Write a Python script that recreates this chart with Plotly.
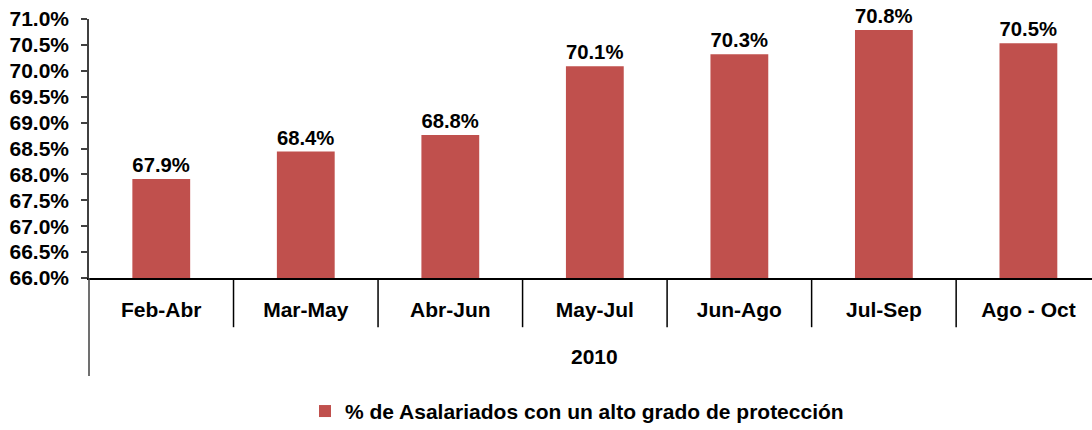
import plotly.graph_objects as go

categories = ["Feb-Abr", "Mar-May", "Abr-Jun", "May-Jul", "Jun-Ago", "Jul-Sep", "Ago - Oct"]
values = [67.91, 68.44, 68.76, 70.09, 70.32, 70.79, 70.53]
labels = ["67.9%", "68.4%", "68.8%", "70.1%", "70.3%", "70.8%", "70.5%"]
year_label = "2010"
series_name = "% de Asalariados con un alto grado de protección"

FONT = "Liberation Sans, Arial, sans-serif"
FS = 21
BAR = "#C0504D"
AX = "#404040"

fig = go.Figure()
fig.add_trace(go.Bar(
    x=categories, y=values, name=series_name,
    marker=dict(color=BAR, line=dict(width=0)),
    text=labels, textposition="outside", cliponaxis=False,
    textfont=dict(family=FONT, size=FS, color="black", weight="bold"),
    showlegend=True,
))

n = len(categories)
shapes = []
# separators between categories below the axis
for i in range(n - 1):
    shapes.append(dict(type="line", xref="x", yref="paper", x0=i + 0.5, x1=i + 0.5,
                       y0=0, y1=-0.19, line=dict(color="black", width=1.5)))
# extension of y axis line downward
shapes.append(dict(type="line", xref="paper", yref="paper", x0=0, x1=0,
                   y0=0, y1=-0.378, line=dict(color=AX, width=1.5)))

fig.update_layout(
    width=1092, height=430,
    margin=dict(l=89, r=0, t=19, b=152, autoexpand=False),
    paper_bgcolor="white", plot_bgcolor="white",
    font=dict(family=FONT, size=FS, color="black"),
    bargap=0.6,
    shapes=shapes,
    xaxis=dict(
        type="category", range=[-0.5, n - 0.56], automargin=False,
        showline=True, linecolor="black", linewidth=1.5,
        ticks="outside", ticklen=12, tickcolor="rgba(0,0,0,0)",
        tickfont=dict(family=FONT, size=FS, color="black", weight="bold"),
        showgrid=False, zeroline=False,
    ),
    yaxis=dict(
        range=[66, 71], dtick=0.5, tick0=66, tickformat=".1f", ticksuffix="%",
        automargin=False,
        showline=True, linecolor=AX, linewidth=1.5,
        ticks="outside", ticklen=6, tickcolor=AX, tickwidth=1.5,
        ticklabelstandoff=8,
        tickfont=dict(family=FONT, size=FS, color="black", weight="bold"),
        showgrid=False, zeroline=False,
    ),
    legend=dict(
        orientation="h", xanchor="left", yanchor="middle",
        x=(305 - 89) / 1003, y=-0.515,
        font=dict(family=FONT, size=FS, color="black", weight="bold"),
        itemwidth=30,
    ),
    annotations=[dict(
        text=year_label, xref="x", yref="paper", x=3, y=-0.305,
        showarrow=False, xanchor="center", yanchor="middle",
        font=dict(family=FONT, size=FS, color="black", weight="bold"),
    )],
)

fig.write_html("out.html", config={"displayModeBar": False},
               post_script="document.body.style.margin='0';")
